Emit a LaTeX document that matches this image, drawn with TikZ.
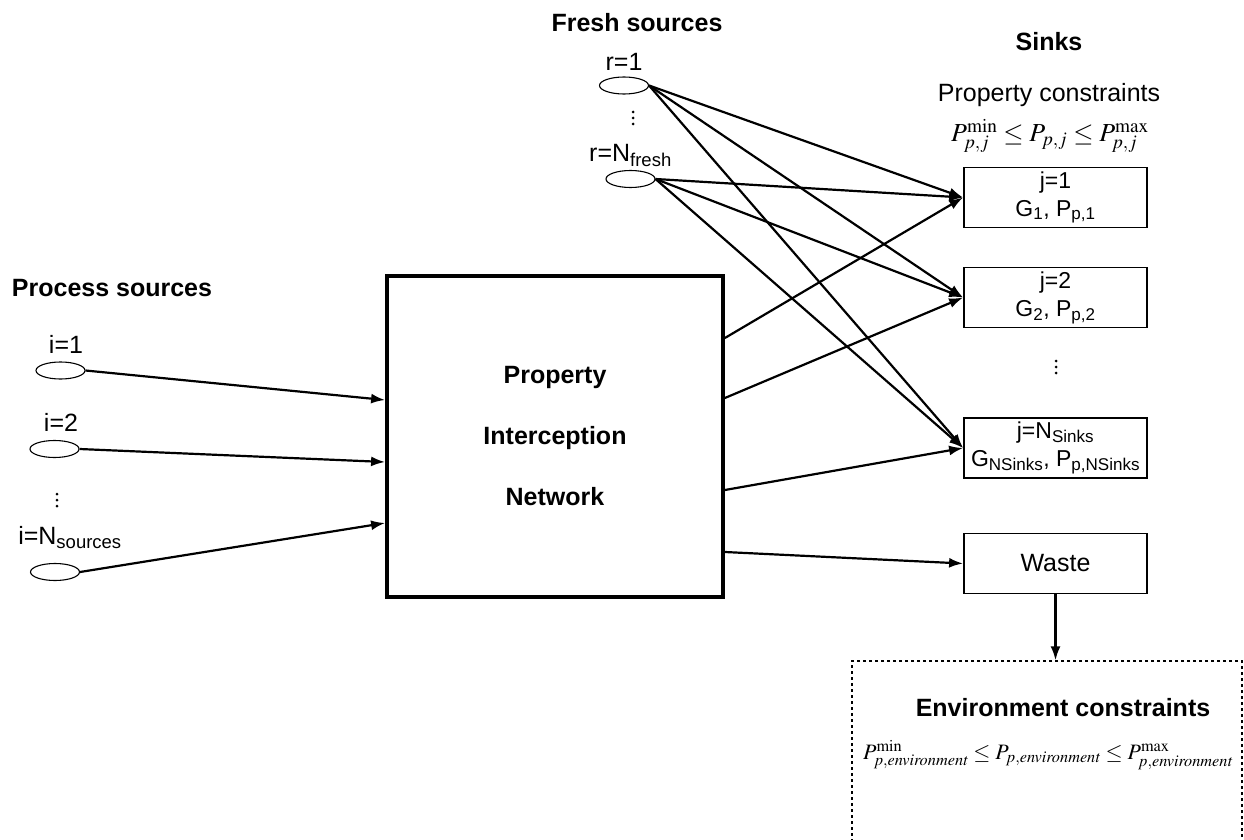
\documentclass[tikz,border=0pt]{standalone}
\usepackage{mathptmx}
\usepackage[no-math]{fontspec}
\setmainfont{Liberation Sans}
\usepackage{tikz}
\usetikzlibrary{arrows.meta,positioning,calc,shapes.geometric}
\tikzstyle{source}=[draw,ellipse,line width=1.1pt,minimum width=49pt,minimum height=17pt,inner sep=0pt]
\tikzstyle{sink}=[draw,rectangle,line width=1.8pt,minimum width=183pt,minimum height=60pt,inner sep=0pt,align=center,font=\fontsize{23}{28}\selectfont]

\begin{document}
\begin{tikzpicture}[
  x=1pt, y=-1pt,
  font=\fontsize{25}{30}\selectfont,
  >={Latex[length=14pt,width=10pt]},
  flow/.style={->,line width=2.2pt},
  title/.style={font=\fontsize{25}{30}\selectfont\bfseries},
  pinbox/.style={draw,line width=3.8pt,minimum width=336pt,minimum height=321pt,align=center,font=\fontsize{25}{30}\selectfont\bfseries},
  envbox/.style={draw,dashed,line width=1.3pt,minimum width=390pt,minimum height=200pt,inner sep=0pt}
]
\useasboundingbox (0,0) rectangle (1244,840);
\clip (0,0) rectangle (1244,840);

% process sources
\node[title] (proctitle) at (112,288) {Process sources};
\node[source] (i1) at (60.5,370.5) {};
\node[source] (i2) at (54.5,449) {};
\node[source] (iN) at (55,572) {};
\node[above=4.5pt of i1, xshift=5.5pt] (i1lbl) {i=1};
\node[above=5pt of i2, xshift=6.5pt] (i2lbl) {i=2};
\node[above=11pt of iN, xshift=15pt] (iNlbl) {i=N\textsubscript{sources}};

% fresh sources
\node[title] (freshtitle) at (637,23) {Fresh sources};
\node[source] (r1) at (624,85.5) {};
\node[source] (rN) at (630.5,179) {};
\node[above=2.5pt of r1] (r1lbl) {r=1};
\node[above=0pt of rN] (rNlbl) {r=N\textsubscript{fresh}};

% property interception network
\node[pinbox] (pin) at (555,436.5) {Property\\[31pt]Interception\\[31pt]Network};

% sinks
\node[title] (sinktitle) at (1049,42) {Sinks};
\node (propcon) at (1049,95) {Property constraints};
\node[inner sep=1pt] (propeq) at (1050,136) {\fontsize{26}{30}\selectfont$P_{p,j}^{\mathrm{min}} \le P_{p,j} \le P_{p,j}^{\mathrm{max}}$};
\node[sink] (j1) at (1055.5,197.5) {j=1\\G\textsubscript{1}, P\textsubscript{p,1}};
\node[sink] (j2) at (1055.5,297.5) {j=2\\G\textsubscript{2}, P\textsubscript{p,2}};
\node[sink] (jN) at (1055.5,448) {j=N\textsubscript{Sinks}\\G\textsubscript{NSinks}, P\textsubscript{p,NSinks}};
\node[sink] (waste) at (1055.5,563.5) {\fontsize{25}{30}\selectfont Waste};

% vertical dots
\foreach \dx/\dy in {57/500, 633/118, 1056/367}
  \foreach \k in {-6,0,6}
    \fill (\dx,\dy+\k) circle (1.5pt);

% environment
\node[envbox] (env) at (1047,761) {};
\node[title] (envtitle) at (1063,708) {Environment constraints};
\node (enveq) at (1048,755) {\fontsize{22}{26}\selectfont$P_{p,\mathit{environment}}^{\mathrm{min}} \le P_{p,\mathit{environment}} \le P_{p,\mathit{environment}}^{\mathrm{max}}$};

% process sources into the network
\draw[flow] (i1.east) -- ([yshift=36.5pt]pin.west);
\draw[flow] (i2.east) -- ([yshift=-25.5pt]pin.west);
\draw[flow] (iN.east) -- ([yshift=-86.5pt]pin.west);

% network to sinks and waste
\draw[flow] ([yshift=98.5pt]pin.east) -- (j1.west);
\draw[flow] ([yshift=38.5pt]pin.east) -- (j2.west);
\draw[flow] ([yshift=-53.5pt]pin.east) -- (jN.west);
\draw[flow] ([yshift=-115.5pt]pin.east) -- (waste.west);

% fresh sources to sinks
\foreach \src in {r1,rN}
  \foreach \snk in {j1,j2,jN}
    \draw[flow] (\src.east) -- (\snk.west);

\draw[flow] (waste.south) -- (waste.south |- env.north);
\end{tikzpicture}
\end{document}
